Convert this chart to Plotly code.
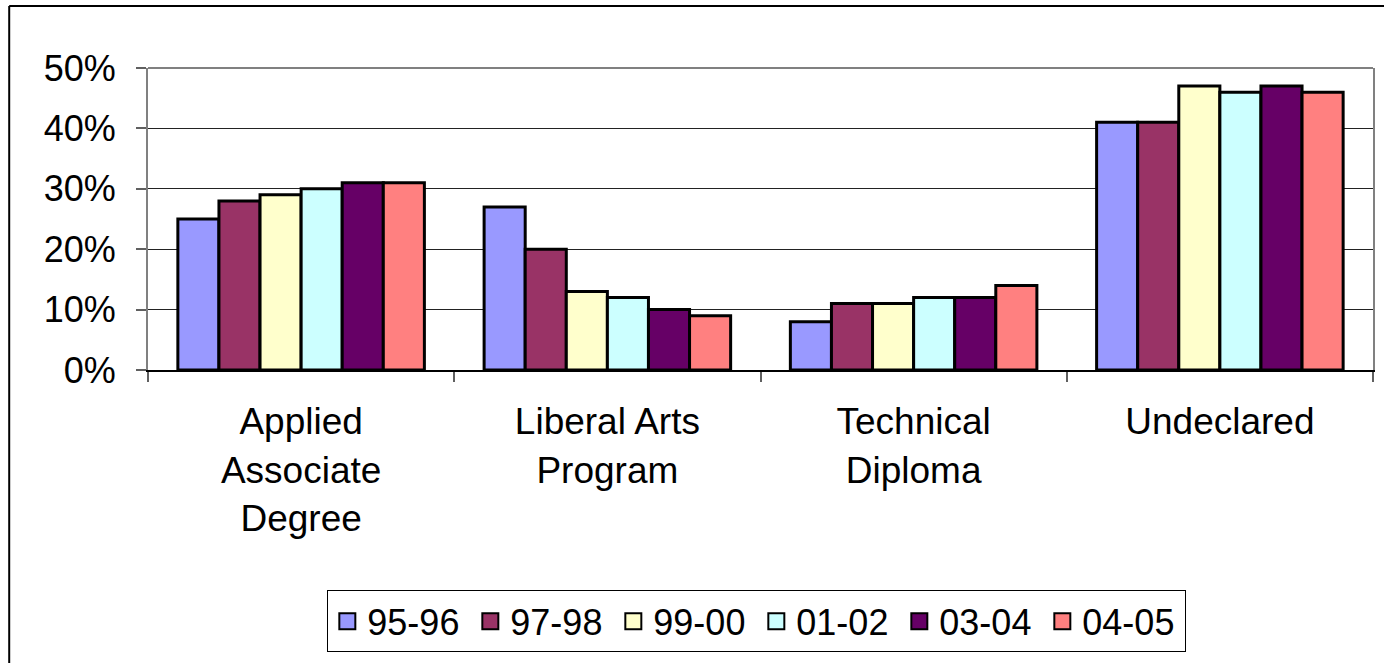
import plotly.graph_objects as go

categories = ["Applied<br>Associate<br>Degree", "Liberal Arts<br>Program", "Technical<br>Diploma", "Undeclared"]
series_names = ["95-96", "97-98", "99-00", "01-02", "03-04", "04-05"]
v_95_96 = [0.25, 0.27, 0.08, 0.41]
v_97_98 = [0.28, 0.20, 0.11, 0.41]
v_99_00 = [0.29, 0.13, 0.11, 0.47]
v_01_02 = [0.30, 0.12, 0.12, 0.46]
v_03_04 = [0.31, 0.10, 0.12, 0.47]
v_04_05 = [0.31, 0.09, 0.14, 0.46]
series_values = [v_95_96, v_97_98, v_99_00, v_01_02, v_03_04, v_04_05]
colors = ["#9999FF", "#993366", "#FFFFCC", "#CCFFFF", "#660066", "#FF8080"]
y_ticks = [0, 0.1, 0.2, 0.3, 0.4, 0.5]

FONT = "Liberation Sans, Arial, sans-serif"

fig = go.Figure()
for name, vals, col in zip(series_names, series_values, colors):
    fig.add_trace(go.Bar(
        x=categories, y=vals, name=name, legendgroup=name, showlegend=False,
        marker=dict(color=col, line=dict(color="black", width=3)),
        hoverinfo="skip",
    ))
for name, col in zip(series_names, colors):
    fig.add_trace(go.Scatter(
        x=[None], y=[None], mode="markers", name=name, legendgroup=name,
        marker=dict(symbol="square", size=16, color=col, line=dict(color="black", width=2)),
    ))

fig.update_layout(
    width=1384, height=663,
    margin=dict(l=148, r=9, t=68, b=293),
    paper_bgcolor="white", plot_bgcolor="white",
    barmode="group", bargap=0.195, bargroupgap=0,
    font=dict(family=FONT, size=36, color="black"),
    showlegend=True,
    legend=dict(
        orientation="h", x=0.497, xanchor="center", y=-0.73, yanchor="top",
        bordercolor="black", borderwidth=1, bgcolor="white",
        font=dict(family=FONT, size=36, color="black"),
        entrywidth=98, entrywidthmode="pixels",
        itemclick=False, itemdoubleclick=False,
    ),
    xaxis=dict(
        showgrid=False, showline=True, linecolor="black", linewidth=2,
        ticks="outside", ticklen=10, tickcolor="#606060", tickwidth=2,
        tickson="boundaries", ticklabelstandoff=18,
        tickfont=dict(family=FONT, size=37),
    ),
    yaxis=dict(
        range=[0, 0.5], tickvals=y_ticks, tickformat=".0%",
        showgrid=True, gridcolor="#222222", gridwidth=1,
        showline=True, linecolor="#808080", linewidth=2, mirror=True,
        ticks="outside", ticklen=10, tickcolor="#606060", tickwidth=2,
        ticklabelstandoff=13, zeroline=False,
        tickfont=dict(family=FONT, size=36),
    ),
    shapes=[
        dict(type="line", xref="paper", yref="paper", x0=0, x1=1, y0=1, y1=1,
             line=dict(color="#808080", width=2)),
        dict(type="line", xref="paper", yref="paper", x0=-0.1133, x1=1.01, y0=1.2053, y1=1.2053,
             line=dict(color="black", width=2)),
        dict(type="line", xref="paper", yref="paper", x0=-0.1133, x1=-0.1133, y0=1.2053, y1=-1.0,
             line=dict(color="black", width=2)),
    ],
)

fig.write_html(
    "out.html",
    config={"displayModeBar": False},
    post_script="document.body.style.margin='0';document.body.style.overflow='hidden';",
)
